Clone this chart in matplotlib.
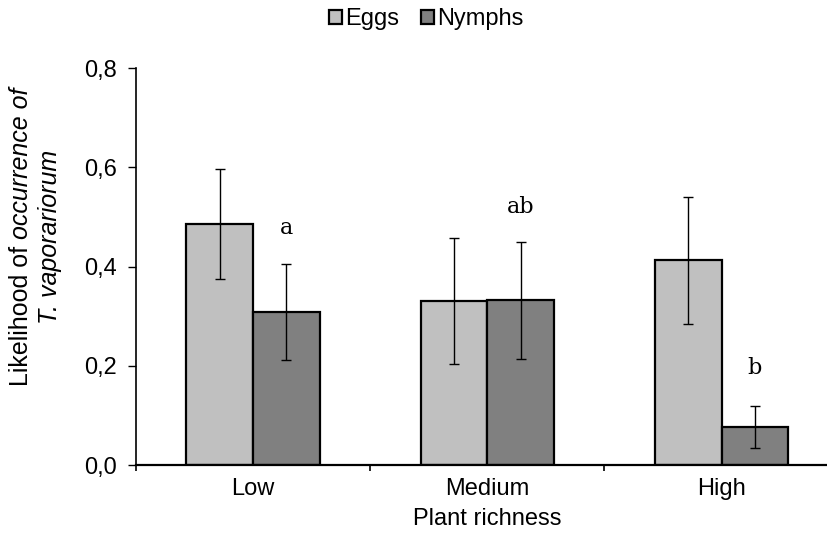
import numpy as np
import matplotlib
matplotlib.use("Agg")
import matplotlib.pyplot as plt

plt.rcParams['font.family'] = ['Liberation Sans', 'DejaVu Sans']

categories = ["Low", "Medium", "High"]
series_names = ["Eggs", "Nymphs"]
eggs = [0.486, 0.331, 0.413]
eggs_err = [0.111, 0.127, 0.128]
nymphs = [0.308, 0.332, 0.077]
nymphs_err = [0.097, 0.118, 0.042]
letters = ["a", "ab", "b"]
letter_y = [0.478, 0.52, 0.196]

FS = 17

fig = plt.figure(figsize=(8.28, 5.46), dpi=100)
ax = fig.add_axes([0.164, 0.148, 0.849, 0.727])

x = np.arange(len(categories)) + 0.5
w = 0.284
err_kw = dict(ecolor='black', elinewidth=1.0, capsize=3.3, capthick=1.0)
b1 = ax.bar(x - w / 2, eggs, w, yerr=eggs_err, color='#c0c0c0', edgecolor='black',
            linewidth=1.6, error_kw=err_kw, label=series_names[0])
b2 = ax.bar(x + w / 2, nymphs, w, yerr=nymphs_err, color='#808080', edgecolor='black',
            linewidth=1.6, error_kw=err_kw, label=series_names[1])

for i in range(len(categories)):
    ax.text(x[i] + w / 2, letter_y[i], letters[i], ha='center', va='center',
            fontsize=16, family='DejaVu Serif')

ax.set_xlim(0, 3)
ax.set_ylim(0, 0.8)
ax.set_yticks(np.arange(0, 0.81, 0.2))
ax.set_yticklabels([f"{v:.1f}".replace('.', ',') for v in np.arange(0, 0.81, 0.2)], fontsize=FS)
ax.set_xticks([0, 1, 2, 3])
ax.set_xticklabels([])
ax.set_xticks(x, minor=True)
ax.set_xticklabels(categories, minor=True, fontsize=FS)
ax.tick_params(axis='x', which='minor', length=0, pad=9)
ax.tick_params(axis='x', which='major', length=4.5, width=1.2, direction='out')
ax.tick_params(axis='y', length=5.5, width=1.0, direction='out', pad=8)

for s in ['top', 'right']:
    ax.spines[s].set_visible(False)
ax.spines['left'].set_linewidth(1.2)
ax.spines['bottom'].set_linewidth(1.6)

ax.set_xlabel("Plant richness", fontsize=FS, labelpad=6)

# y label: mixed upright / italic, built from pieces
W, H = 828, 546
LFS = 18
yc = 1 - 237 / H
renderer = fig.canvas.get_renderer()
ta = fig.text(21 / W, 0, "Likelihood of ", rotation=90, fontsize=LFS, ha='center', va='bottom')
tb = fig.text(21 / W, 0, "occurrence of", rotation=90, fontsize=LFS, style='italic',
              ha='center', va='bottom')
ha_ = ta.get_window_extent(renderer).height / H
hb_ = tb.get_window_extent(renderer).height / H
y0 = yc - (ha_ + hb_) / 2
ta.set_y(y0)
tb.set_y(y0 + ha_)
fig.text(50 / W, yc, "T. vaporariorum", rotation=90, fontsize=LFS, style='italic',
         ha='center', va='center')

fig.legend(handles=[b1, b2], labels=series_names, loc='center', bbox_to_anchor=(0.515, 0.965),
           ncol=2, frameon=False, fontsize=FS, handlelength=0.55, handleheight=0.55,
           handletextpad=0.15, columnspacing=0.9, borderpad=0.1)

fig.savefig("out.png", dpi=100)
